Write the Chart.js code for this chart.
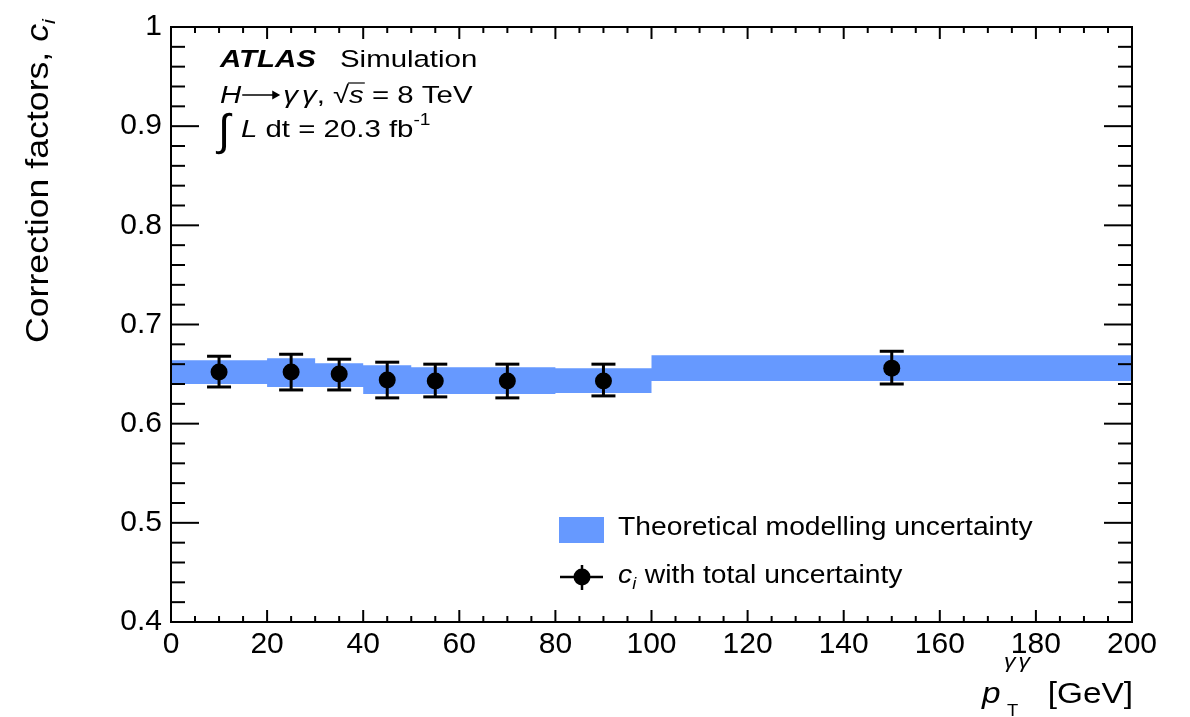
<!DOCTYPE html>
<html>
<head>
<meta charset="UTF-8">
<title>Correction factors c_i</title>
<script src="https://cdn.jsdelivr.net/npm/chart.js"></script>
<style>
    body { margin: 0; background: #fff; }
    #chartBox { width: 1190px; height: 717px; }
</style>
</head>
<body>
<div id="chartBox">
    <canvas id="cfChart" width="1190" height="717"></canvas>
</div>

<script>
    // pT(gamma gamma) bin edges [GeV] and the theory modelling band per bin
    const binEdges = [0, 20, 30, 40, 50, 60, 80, 100, 200];
    const bandHigh = [0.664, 0.666, 0.661, 0.659, 0.657, 0.657, 0.656, 0.669];
    const bandLow  = [0.640, 0.637, 0.637, 0.630, 0.630, 0.630, 0.631, 0.643];

    // c_i points with total uncertainty
    const pointPt = [10, 25, 35, 45, 55, 70, 90, 150];
    const pointC  = [0.652, 0.652, 0.650, 0.644, 0.643, 0.643, 0.643, 0.656];
    const errUp   = [0.668, 0.670, 0.665, 0.662, 0.660, 0.660, 0.660, 0.673];
    const errDown = [0.637, 0.634, 0.634, 0.626, 0.627, 0.626, 0.628, 0.640];

    // axis ticks
    const xTickValues = [0, 20, 40, 60, 80, 100, 120, 140, 160, 180, 200];
    const xTickLabels = ['0', '20', '40', '60', '80', '100', '120', '140', '160', '180', '200'];
    const yTickValues = [0.4, 0.5, 0.6, 0.7, 0.8, 0.9, 1.0];
    const yTickLabels = ['0.4', '0.5', '0.6', '0.7', '0.8', '0.9', '1'];

    const FONT = '"Liberation Sans", Arial, Helvetica, sans-serif';
    const BAND_COLOR = 'rgb(102, 153, 255)';

    // draws a row of text pieces, stretched a bit sideways like the ROOT font
    function drawRuns(ctx, x, y, runs, sx) {
        let cx = x;
        runs.forEach(r => {
            ctx.font = r.font;
            ctx.save();
            ctx.translate(cx + (r.dx || 0), y + (r.dy || 0));
            ctx.scale(sx, 1);
            ctx.fillText(r.text, 0, 0);
            ctx.restore();
            cx += ctx.measureText(r.text).width * sx + (r.dx || 0);
        });
        return cx;
    }

    function line(ctx, x1, y1, x2, y2) {
        ctx.beginPath();
        ctx.moveTo(x1, y1);
        ctx.lineTo(x2, y2);
        ctx.stroke();
    }

    const atlasDecor = {
        id: 'atlasDecor',
        afterDatasetsDraw(chart) {
            // error bars with caps
            const ctx = chart.ctx, xs = chart.scales.x, ys = chart.scales.y;
            ctx.save();
            ctx.strokeStyle = '#000';
            ctx.lineWidth = 3;
            pointPt.forEach((pt, i) => {
                const px = xs.getPixelForValue(pt);
                const yTop = ys.getPixelForValue(errUp[i]);
                const yBot = ys.getPixelForValue(errDown[i]);
                line(ctx, px, yTop, px, yBot);
                line(ctx, px - 12, yTop, px + 12, yTop);
                line(ctx, px - 12, yBot, px + 12, yBot);
            });
            ctx.restore();
        },
        afterDraw(chart) {
            const ctx = chart.ctx, a = chart.chartArea;
            const xs = chart.scales.x, ys = chart.scales.y;
            ctx.save();
            ctx.strokeStyle = '#000';
            ctx.fillStyle = '#000';

            // frame
            ctx.lineWidth = 2;
            ctx.strokeRect(a.left, a.top, a.right - a.left, a.bottom - a.top);

            // y ticks, left and right, 5 subdivisions
            yTickValues.forEach((v, k) => {
                const py = ys.getPixelForValue(v);
                line(ctx, a.left, py, a.left + 28, py);
                line(ctx, a.right - 28, py, a.right, py);
                if (k < yTickValues.length - 1) {
                    const step = (yTickValues[k + 1] - v) / 5;
                    for (let j = 1; j < 5; j++) {
                        const my = ys.getPixelForValue(v + j * step);
                        line(ctx, a.left, my, a.left + 14, my);
                        line(ctx, a.right - 14, my, a.right, my);
                    }
                }
            });
            // x ticks, bottom and top, 4 subdivisions
            xTickValues.forEach((v, k) => {
                const px = xs.getPixelForValue(v);
                line(ctx, px, a.bottom, px, a.bottom - 12);
                line(ctx, px, a.top, px, a.top + 12);
                if (k < xTickValues.length - 1) {
                    const step = (xTickValues[k + 1] - v) / 4;
                    for (let j = 1; j < 4; j++) {
                        const mx = xs.getPixelForValue(v + j * step);
                        line(ctx, mx, a.bottom, mx, a.bottom - 6);
                        line(ctx, mx, a.top, mx, a.top + 6);
                    }
                }
            });

            // ATLAS label block
            ctx.textBaseline = 'alphabetic';
            ctx.textAlign = 'left';
            const sx = 1.2, fs = 24.5;
            drawRuns(ctx, 220, 67, [{ text: 'ATLAS', font: `italic bold ${fs}px ${FONT}` }], sx);
            drawRuns(ctx, 340, 67, [{ text: 'Simulation', font: `${fs}px ${FONT}` }], sx);

            let cx = drawRuns(ctx, 220, 103, [{ text: 'H', font: `italic ${fs}px ${FONT}` }], sx);
            // long arrow
            ctx.lineWidth = 1.6;
            line(ctx, cx + 1, 95, cx + 37, 95);
            ctx.beginPath();
            ctx.moveTo(cx + 39, 95);
            ctx.lineTo(cx + 31, 90.5);
            ctx.lineTo(cx + 31, 99.5);
            ctx.closePath();
            ctx.fill();
            cx += 42;
            cx = drawRuns(ctx, cx, 103, [
                { text: '\u03B3', font: `italic ${fs}px ${FONT}` },
                { text: '\u03B3', font: `italic ${fs}px ${FONT}`, dx: 4 },
                { text: ', ', font: `${fs}px ${FONT}` },
                { text: '\u221A', font: `${fs}px ${FONT}` }
            ], sx);
            const sStart = cx;
            cx = drawRuns(ctx, cx, 103, [{ text: 's', font: `italic ${fs}px ${FONT}` }], sx);
            ctx.lineWidth = 1.2;
            line(ctx, sStart - 1, 83, cx + 1, 83);
            drawRuns(ctx, cx, 103, [{ text: ' = 8 TeV', font: `${fs}px ${FONT}` }], sx);

            drawRuns(ctx, 218, 145, [{ text: '\u222B', font: `44px ${FONT}` }], 1.0);
            cx = drawRuns(ctx, 241, 137, [
                { text: 'L', font: `italic ${fs}px ${FONT}` },
                { text: ' dt = 20.3 fb', font: `${fs}px ${FONT}` }
            ], sx);
            drawRuns(ctx, cx, 125, [{ text: '-1', font: `16px ${FONT}` }], sx);

            // y axis title
            ctx.save();
            ctx.translate(48, 343);
            ctx.rotate(-Math.PI / 2);
            cx = drawRuns(ctx, 0, 0, [
                { text: 'Correction factors, ', font: `31px ${FONT}` },
                { text: 'c', font: `italic 31px ${FONT}` }
            ], 1.15);
            drawRuns(ctx, cx, 7, [{ text: 'i', font: `italic 19px ${FONT}` }], 1.15);
            ctx.restore();

            // x axis title
            drawRuns(ctx, 982, 703, [{ text: 'p', font: `italic 29px ${FONT}` }], 1.15);
            drawRuns(ctx, 1004, 668, [
                { text: '\u03B3', font: `italic 20px ${FONT}` },
                { text: '\u03B3', font: `italic 20px ${FONT}`, dx: 3 }
            ], 1.15);
            drawRuns(ctx, 1007, 716, [{ text: 'T', font: `16px ${FONT}` }], 1.15);
            ctx.save();
            ctx.font = `29px ${FONT}`;
            ctx.textAlign = 'right';
            ctx.translate(1133, 703);
            ctx.scale(1.15, 1);
            ctx.fillText('[GeV]', 0, 0);
            ctx.restore();

            // legend
            ctx.fillStyle = BAND_COLOR;
            ctx.fillRect(559, 517, 45, 26);
            ctx.fillStyle = '#000';
            drawRuns(ctx, 618, 535, [{ text: 'Theoretical modelling uncertainty', font: `25px ${FONT}` }], 1.13);
            ctx.lineWidth = 2.5;
            line(ctx, 560, 577, 603, 577);
            line(ctx, 582, 565, 582, 590);
            ctx.beginPath();
            ctx.arc(582, 577, 8.5, 0, Math.PI * 2);
            ctx.fill();
            cx = drawRuns(ctx, 618, 583, [{ text: 'c', font: `italic 25px ${FONT}` }], 1.13);
            drawRuns(ctx, cx, 589, [{ text: 'i', font: `italic 16px ${FONT}` }], 1.13);
            drawRuns(ctx, 637, 583, [{ text: ' with total uncertainty', font: `25px ${FONT}` }], 1.13);

            ctx.restore();
        }
    };

    const ctx = document.getElementById('cfChart').getContext('2d');
    const cfChart = new Chart(ctx, {
        type: 'scatter',
        data: {
            datasets: [
                {
                    label: 'c_i with total uncertainty',
                    data: pointPt.map((pt, i) => ({ x: pt, y: pointC[i] })),
                    pointRadius: 8.5,
                    pointBackgroundColor: '#000',
                    pointBorderColor: '#000',
                    pointBorderWidth: 0,
                    showLine: false
                },
                {
                    type: 'line',
                    label: 'band upper edge',
                    data: binEdges.map((x, i) => ({ x: x, y: bandHigh[Math.min(i, bandHigh.length - 1)] })),
                    stepped: true,
                    borderColor: 'rgba(0,0,0,0)',
                    borderWidth: 0,
                    pointRadius: 0,
                    fill: false
                },
                {
                    type: 'line',
                    label: 'Theoretical modelling uncertainty',
                    data: binEdges.map((x, i) => ({ x: x, y: bandLow[Math.min(i, bandLow.length - 1)] })),
                    stepped: true,
                    borderColor: 'rgba(0,0,0,0)',
                    borderWidth: 0,
                    pointRadius: 0,
                    backgroundColor: BAND_COLOR,
                    fill: '-1'
                }
            ]
        },
        options: {
            responsive: false,
            animation: false,
            layout: { padding: { top: 21, right: 58, left: 0, bottom: 0 } },
            plugins: {
                legend: { display: false },
                tooltip: { enabled: false }
            },
            scales: {
                x: {
                    type: 'linear',
                    min: 0,
                    max: 200,
                    grid: { display: false, drawTicks: false },
                    border: { display: false },
                    afterBuildTicks: s => { s.ticks = xTickValues.map(v => ({ value: v })); },
                    afterFit: s => { s.height = 95; },
                    ticks: {
                        autoSkip: false,
                        maxRotation: 0,
                        padding: 5,
                        color: '#000',
                        font: { family: FONT, size: 30 },
                        callback: (v, i) => xTickLabels[i]
                    }
                },
                y: {
                    min: 0.4,
                    max: 1,
                    grid: { display: false, drawTicks: false },
                    border: { display: false },
                    afterBuildTicks: s => { s.ticks = yTickValues.map(v => ({ value: v })); },
                    afterFit: s => { s.width = 171; },
                    ticks: {
                        autoSkip: false,
                        padding: 9,
                        color: '#000',
                        font: { family: FONT, size: 30 },
                        callback: (v, i) => yTickLabels[i]
                    }
                }
            }
        },
        plugins: [atlasDecor]
    });
</script>
</body>
</html>
